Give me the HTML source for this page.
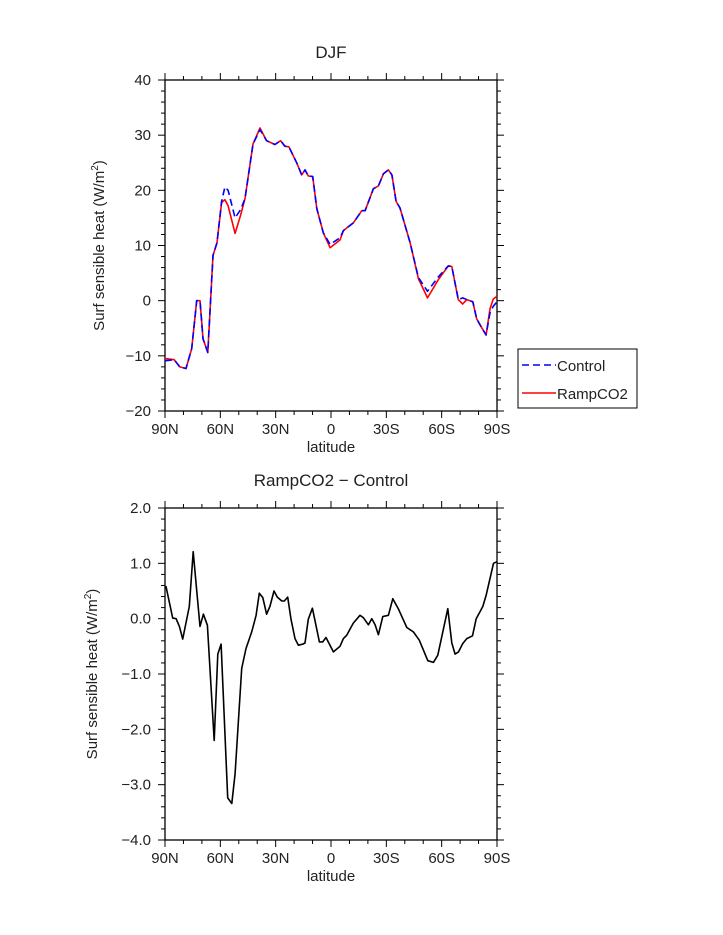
<!DOCTYPE html>
<html><head><meta charset="utf-8"><style>
html,body{margin:0;padding:0;background:#fff;}
svg{display:block;font-family:"Liberation Sans",sans-serif;}
text{fill:#222;}
</style></head><body>
<svg id="chart" width="723" height="935" viewBox="0 0 723 935"></svg>
<script>
const topLats=[90,85,82,78.6,75.5,72.8,71,69.4,66.8,64,61.8,59.3,57.5,55.8,52,49,46.6,42.3,38.5,34.9,30.4,27.3,25,22.8,18.6,15.9,14.1,12.3,9.9,7.7,4.2,0.5,-4.9,-6.7,-12.1,-16.7,-18.5,-23,-25.7,-28.4,-31.1,-33,-35.3,-37.4,-42.9,-47.4,-52.3,-58.2,-63.6,-65.5,-69,-71.4,-73.6,-76.9,-79,-81.7,-84.1,-86.2,-88,-90];
const controlVals=[-10.9,-10.7,-12,-12.3,-8.7,0,0,-6.9,-9.4,8.2,10.5,18,20.6,20,15,16.5,18.5,28.4,31,29,28.3,29,28,27.9,25,22.8,23.7,22.6,22.5,16.7,12.3,10.2,11.4,12.7,14.1,16.3,16.3,20.3,20.8,23,23.7,22.8,18,16.8,10.5,4.2,1.7,4.3,6.3,6.2,0.2,0.5,0.2,-0.2,-3.3,-4.9,-6.2,-2.2,-1,-0.2];
const rampVals=[-10.5,-10.7,-12,-12.3,-8.7,0,0,-6.9,-9.4,8.2,10.5,17.8,18.3,17.2,12.2,15.5,18.5,28.4,31.3,29,28.3,29,28,27.9,25,22.8,23.7,22.6,22.5,16.7,12.3,9.6,11,12.7,14.1,16.3,16.3,20.3,20.8,23,23.7,22.8,18,16.8,10.5,4,0.5,3.8,6.3,6.2,0.2,-0.6,0.2,-0.2,-3.3,-4.9,-6.2,-1.5,0.3,0.8];
const diffLats=[89.5,85.8,84,82.2,80.4,76.8,74.7,72.8,71,69.2,67,63.3,61.4,59.6,56,53.8,52,48.4,46.1,43,40.6,38.9,37,34.9,33.1,30.9,29.1,26.7,25.3,23.5,21.7,19.5,17.7,15.3,14.1,12.3,10.1,6.3,4.5,2.7,-1.3,-4.9,-6.7,-8.5,-12.1,-15.7,-17.5,-20.3,-22.1,-23.9,-25.7,-28.1,-31.1,-33.5,-36.5,-41.1,-44.7,-47.9,-52.5,-55.5,-57.9,-60.6,-63.3,-65.5,-67.3,-69.1,-71.4,-73.6,-76.7,-78.7,-82.3,-84.1,-88.1,-90];
const diffVals=[0.59,0.01,0,-0.14,-0.37,0.22,1.21,0.51,-0.14,0.08,-0.12,-2.2,-0.64,-0.46,-3.24,-3.34,-2.8,-0.9,-0.54,-0.24,0.06,0.46,0.38,0.08,0.22,0.5,0.39,0.32,0.32,0.39,-0.01,-0.36,-0.48,-0.46,-0.44,-0.01,0.19,-0.42,-0.42,-0.34,-0.6,-0.5,-0.36,-0.3,-0.08,0.06,0.02,-0.11,0,-0.11,-0.29,0.04,0.06,0.36,0.18,-0.16,-0.24,-0.39,-0.76,-0.79,-0.66,-0.24,0.18,-0.44,-0.64,-0.6,-0.45,-0.36,-0.31,0,0.22,0.42,1.0,1.03];
const xTickLabels=["90N","60N","30N","0","30S","60S","90S"];
const xTickVals=[90,60,30,0,-30,-60,-90];
const topYTicks=[40,30,20,10,0,-10,-20];
const botYTicks=[2,1,0,-1,-2,-3,-4];

const NS="http://www.w3.org/2000/svg";
const svg=document.getElementById('chart');
function el(tag,attrs,parent){const e=document.createElementNS(NS,tag);for(const k in attrs)e.setAttribute(k,attrs[k]);(parent||svg).appendChild(e);return e;}

function panel(cfg){
  const {x0,x1,y0,y1,ymin,ymax,minorStep,name}=cfg;
  const g=el('g',{});
  
  
  const X=lat=>x0+(90-lat)/180*(x1-x0);
  const Y=v=>y1-(v-ymin)/(ymax-ymin)*(y1-y0);
  const box=el('rect',{x:x0,y:y0,width:x1-x0,height:y1-y0,fill:'none',stroke:'#000','stroke-width':1.3},g);
  
  
  // x ticks
  for(let lat=90;lat>=-90;lat-=10){
    const major=lat%30===0, L=major?7:4, xx=X(lat);
    el('line',{x1:xx,x2:xx,y1:y1,y2:y1+L,stroke:'#000','stroke-width':1},g);
    el('line',{x1:xx,x2:xx,y1:y0,y2:y0-L,stroke:'#000','stroke-width':1},g);
  }
  xTickVals.forEach((v,i)=>{
    const t=el('text',{x:X(v),y:y1+23,'text-anchor':'middle','font-size':15},g);
    t.textContent=xTickLabels[i];
    
    
  });
  // y ticks
  const nMinor=Math.round((ymax-ymin)/minorStep);
  for(let i=0;i<=nMinor;i++){
    const v=ymin+i*minorStep, yy=Y(v);
    const major=Math.abs(v/(minorStep*5)-Math.round(v/(minorStep*5)))<1e-6, L=major?7:4;
    el('line',{x1:x0,x2:x0-L,y1:yy,y2:yy,stroke:'#000','stroke-width':1},g);
    el('line',{x1:x1,x2:x1+L,y1:yy,y2:yy,stroke:'#000','stroke-width':1},g);
  }
  cfg.ticks.forEach(v=>{
    const t=el('text',{x:x0-14,y:Y(v)+5,'text-anchor':'end','font-size':15},g);
    t.textContent=cfg.fmt(v);
    
    
  });
  const xl=el('text',{x:(x0+x1)/2,y:y1+41,'text-anchor':'middle','font-size':15},g);
  xl.textContent='latitude';
  
  
  const yc=(y0+y1)/2;
  const yl=el('text',{x:cfg.ylx,y:yc,'text-anchor':'middle','font-size':15,transform:`rotate(-90 ${cfg.ylx} ${yc})`},g);
  yl.innerHTML='Surf sensible heat (W/m<tspan dy="-6" font-size="10">2</tspan><tspan dy="6">)</tspan>';
  
  
  const tt=el('text',{x:(x0+x1)/2,y:y0-22,'text-anchor':'middle','font-size':17},g);
  tt.textContent=cfg.title;
  
  
  return {X,Y,g};
}
function line(p,lats,vals,attrs,name){
  const d=lats.map((l,i)=>(i?'L':'M')+p.X(l).toFixed(1)+','+p.Y(vals[i]).toFixed(1)).join(' ');
  const path=el('path',Object.assign({d,fill:'none','stroke-linejoin':'round'},attrs),p.g);
  
  
}
const p1=panel({x0:165,x1:497,y0:80,y1:411,ymin:-20,ymax:40,minorStep:2,ticks:topYTicks,fmt:v=>v<0?'\u2212'+(-v):String(v),title:'DJF',ylx:104,name:'top-panel'});
line(p1,topLats,rampVals,{stroke:'#ff0000','stroke-width':1.6},'rampco2-line');
line(p1,topLats,controlVals,{stroke:'#0000ff','stroke-width':1.6,'stroke-dasharray':'7,4'},'control-line');
const p2=panel({x0:165,x1:497,y0:508,y1:840,ymin:-4,ymax:2,minorStep:0.2,ticks:botYTicks,fmt:v=>(v<0?'\u2212':'')+Math.abs(v).toFixed(1),title:'RampCO2 \u2212 Control',ylx:97,name:'bottom-panel'});
line(p2,diffLats,diffVals,{stroke:'#000','stroke-width':1.6},'difference-line');

// legend
const lg=el('g',{});


el('rect',{x:518,y:349,width:119,height:59,fill:'#fff',stroke:'#000','stroke-width':1},lg);
el('line',{x1:522,x2:556,y1:365,y2:365,stroke:'#0000ff','stroke-width':1.6,'stroke-dasharray':'7,4'},lg);
const t1=el('text',{x:557,y:371,'font-size':15},lg);t1.textContent='Control';


el('line',{x1:522,x2:556,y1:393,y2:393,stroke:'#ff0000','stroke-width':1.6},lg);
const t2=el('text',{x:557,y:399,'font-size':15},lg);t2.textContent='RampCO2';


</script>
</body></html>
